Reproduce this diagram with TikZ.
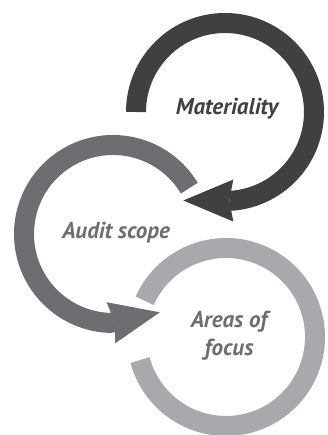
\documentclass[tikz,border=0pt]{standalone}
\usepackage{fontspec}
\setmainfont{PT Sans}
\usetikzlibrary{arrows.meta}
\definecolor{matgray}{HTML}{404041}
\definecolor{audgray}{HTML}{6D6E71}
\definecolor{focgray}{HTML}{A7A9AC}
\begin{document}
\begin{tikzpicture}[x=1pt,y=1pt,
  ring/.style={line width=20pt},
  bigtip/.style={-{Stealth[length=50pt,width=42pt,inset=4pt,line width=0pt]}},
  lbl/.style={font=\fontsize{23}{28}\selectfont\bfseries\itshape,align=center,inner sep=0pt}]
\useasboundingbox (0,0) rectangle (327,435);

\coordinate (mat) at (225,323);
\coordinate (aud) at (113,201);
\coordinate (foc) at (226,98);

\draw [ring,focgray] ([shift={(156:89)}]foc) arc[start angle=156,end angle=-165,radius=89];
\draw [ring,bigtip,audgray] ([shift={(31:89)}]aud) arc[start angle=31,end angle=268,radius=89] -- ++(12:51);
\draw [ring,bigtip,matgray] ([shift={(180:89)}]mat) arc[start angle=180,end angle=-84,radius=89] -- ++(180:51);

\node [lbl,matgray,anchor=base] (matlbl) at (227,320) {Materiality};
\node [lbl,audgray,anchor=base] (audlbl) at (116,196) {Audit scope};
\node [lbl,audgray] (foclbl) at (229,99) {Areas of\\focus};
\end{tikzpicture}
\end{document}
